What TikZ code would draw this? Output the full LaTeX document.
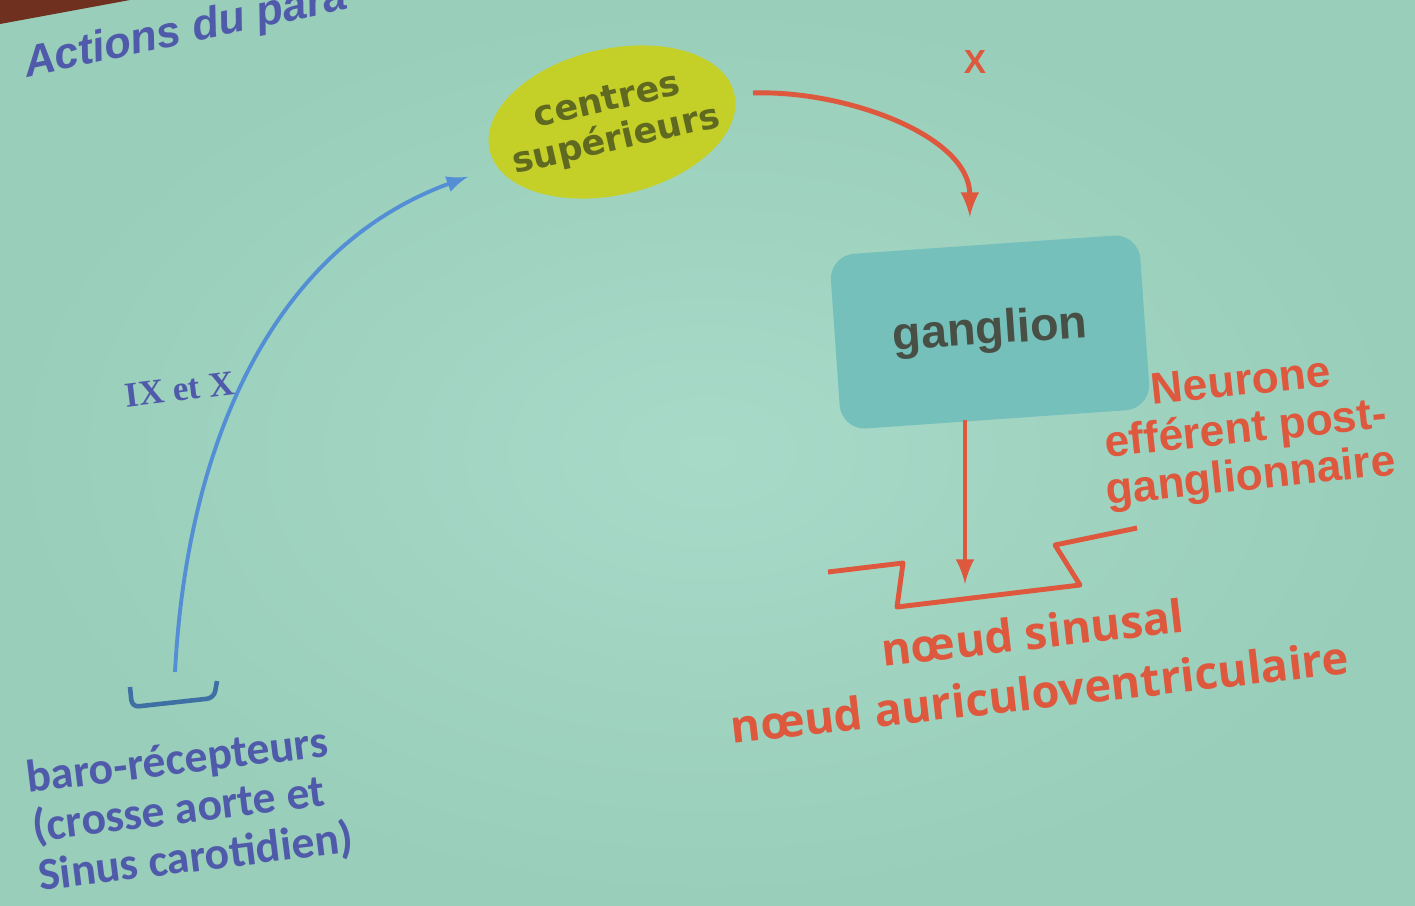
\documentclass[tikz,border=0pt]{standalone}
\usepackage{fontspec}
\setmainfont{Liberation Sans}
\newfontfamily\dejavu{DejaVu Sans}
\newfontfamily\opensans{Open Sans}
\newfontfamily\carlito{Carlito}
\newfontfamily\serif{Liberation Serif}
\usepackage{tikz}
\usetikzlibrary{positioning,shapes.geometric,arrows}

\definecolor{fond}{RGB}{152,206,186}
\definecolor{fondclair}{RGB}{168,218,200}
\definecolor{coin}{RGB}{112,48,32}
\definecolor{jaune}{RGB}{196,208,40}
\definecolor{olive}{RGB}{95,105,32}
\definecolor{sarcelle}{RGB}{118,192,188}
\definecolor{gris}{RGB}{72,80,70}
\definecolor{rouge}{RGB}{222,88,62}
\definecolor{violet}{RGB}{80,90,170}
\definecolor{bleu}{RGB}{84,142,212}
\definecolor{crochet}{RGB}{62,112,164}

\begin{document}
\begin{tikzpicture}[
      x=0.01cm, y=-0.01cm, >=latex,
      centre/.style={
        ellipse, fill=jaune, inner ysep=0pt, inner xsep=-0.17cm,
        minimum width=2.5cm, minimum height=1.46cm,
        text=olive, align=center, rotate=13,
        font=\dejavu\bfseries\fontsize{10}{11.5}\selectfont
      },
      boite/.style={
        rectangle, rounded corners=0.25cm, fill=sarcelle,
        minimum width=3.1cm, minimum height=1.75cm,
        text=gris, rotate=4,
        font=\bfseries\fontsize{13.3}{16}\selectfont
      },
      texterouge/.style={
        text=rouge, align=center, inner sep=0pt,
        font=\bfseries\fontsize{12.6}{13.5}\selectfont
      },
      textebleu/.style={
        text=violet, inner sep=0pt, rotate=7
      },
      lignerouge/.style={draw=rouge, line width=1.4pt},
      lignebleue/.style={draw=bleu, line width=1.1pt}
    ]
    \useasboundingbox (0,0) rectangle (1415,905);
    \shade[inner color=fondclair, outer color=fond] (0,0) rectangle (1415,905);
    \fill[coin] (0,0) -- (130,0) -- (0,24) -- cycle;
    %% Titre
    \begin{scope}
      \clip (0,0) rectangle (1415,905);
      \node[textebleu, rotate=5,
        font=\bfseries\itshape\fontsize{12.4}{14}\selectfont] (titre)
        at (186,32) {Actions du para};
    \end{scope}
    %% Noeuds
    \node[centre] (centres) at (612,122) {centres\\sup\'erieurs};
    \node[boite] (ganglion) at (990,332) {ganglion};
    \node[texterouge, rotate=6] (neurone) at (1246,432)
      {Neurone\\eff\'erent post-\\ganglionnaire};
    \node[texterouge, rotate=6.5,
      font=\opensans\bfseries\fontsize{12.9}{17}\selectfont] (noeud) at (1036,662)
      {n\oe ud sinusal\\n\oe ud auriculoventriculaire};
    \node[textebleu, align=left,
      font=\carlito\bfseries\fontsize{13}{14}\selectfont] (baro) at (190,810)
      {baro-r\'ecepteurs\\(crosse aorte et\\Sinus carotidien)};
    \node[text=rouge, font=\bfseries\fontsize{9.5}{11}\selectfont] (x)
      at (975,62) {X};
    %% Synapse
    \draw[lignerouge, line join=round]
      (828,572) -- (903,563) -- (897,607) -- (1080,585) -- (1055,545) -- (1137,528);
    \coordinate (fente) at (965,584);
    %% Recepteurs
    \draw[draw=crochet, line width=1.3pt, rounded corners=2pt]
      (130,687) -- (132,707) -- (214,698) -- (217,681);
    \coordinate (recep) at (175,672);
    %% Voies
    \draw[lignebleue, ->, shorten >=0.3cm] (recep) to[out=87, in=200]
      node[pos=0.46, left=0.1cm, textebleu,
        font=\serif\bfseries\fontsize{10}{12}\selectfont] (ixx) {IX et X}
      (centres.188);
    \draw[lignerouge, ->, shorten <=0.18cm, shorten >=0.27cm] (centres.east)
      to[out=2, in=90] ([xshift=-0.14cm]ganglion.north);
    \draw[lignerouge, ->] (fente |- ganglion.south) -- (fente);
  \end{tikzpicture}
\end{document}
